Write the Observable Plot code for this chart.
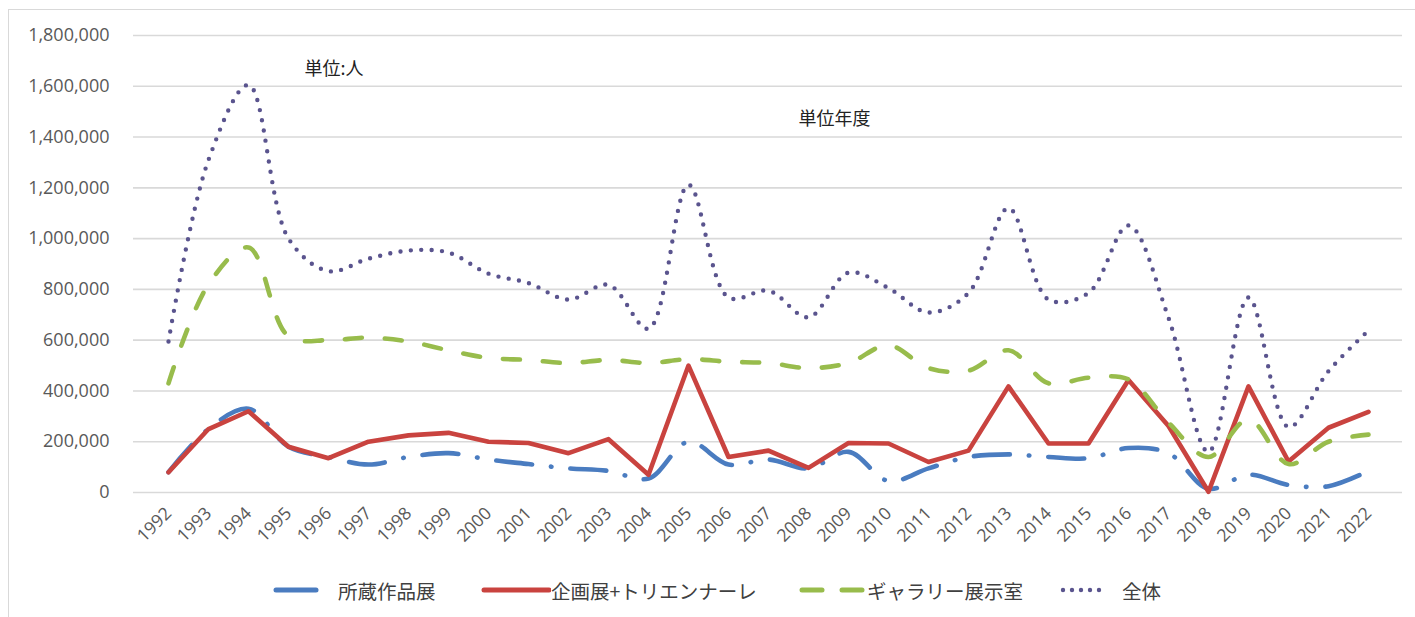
<!DOCTYPE html>
<html>
<head>
<meta charset="utf-8">
<script src="https://cdn.jsdelivr.net/npm/d3@7"></script>
<script src="https://cdn.jsdelivr.net/npm/@observablehq/plot@0.6"></script>
<style>
  html, body { margin: 0; padding: 0; background: #fff; }
  body { width: 1415px; height: 617px; position: relative; overflow: hidden; }
  #frame { position: absolute; left: 8px; top: 9px; width: 1420px; height: 620px; border: 1.5px solid #d9d9d9; box-sizing: border-box; }
  #chart { position: absolute; left: 0; top: 0; }
  #legend { position: absolute; left: 0; top: 577px; height: 26px; width: 1415px;
            font-family: "Noto Sans CJK JP", "Noto Sans", sans-serif; font-size: 19.5px; color: #404040; }
  #legend .item { position: absolute; top: 0; display: flex; align-items: center; height: 26px; white-space: nowrap; }
  #legend svg { display: block; }
</style>
</head>
<body>
<div id="frame"></div>
<div id="chart"></div>
<div id="legend"></div>
<script>
// ---- data ----
const years = ["1992","1993","1994","1995","1996","1997","1998","1999","2000","2001","2002","2003","2004","2005","2006","2007","2008","2009","2010","2011","2012","2013","2014","2015","2016","2017","2018","2019","2020","2021","2022"];
// 所蔵作品展
const shozo   = [80000,250000,330000,180000,140000,110000,140000,155000,130000,112000,95000,85000,55000,200000,110000,130000,95000,160000,45000,95000,140000,150000,140000,135000,175000,155000,15000,70000,30000,25000,85000];
// 企画展+トリエンナーレ
const kikaku  = [80000,250000,320000,180000,135000,200000,225000,235000,200000,195000,155000,210000,70000,500000,140000,165000,97000,195000,193000,120000,165000,418000,193000,193000,443000,262000,3000,418000,122000,255000,318000];
// ギャラリー展示室
const gallery = [430000,820000,965000,615000,600000,610000,595000,560000,530000,522000,510000,522000,510000,525000,515000,510000,490000,510000,580000,490000,480000,560000,430000,452000,445000,275000,140000,288000,112000,200000,228000];
// 全体
const total   = [595000,1310000,1605000,1000000,872000,921000,953000,945000,862000,825000,760000,818000,645000,1212000,768000,795000,690000,866000,805000,709000,786000,1120000,760000,786000,1052000,688000,160000,768000,258000,478000,638000];
const yTicks  = [0,200000,400000,600000,800000,1000000,1200000,1400000,1600000,1800000];
const seriesNames = ["所蔵作品展","企画展+トリエンナーレ","ギャラリー展示室","全体"];
const notes = ["単位:人","単位年度"];

// ---- styles ----
const styles = {
  "所蔵作品展":        {values: shozo,   color: "#4a7cc0", width: 4.6, dash: "36,19,0.5,19", curve: "catmull-rom"},
  "企画展+トリエンナーレ": {values: kikaku,  color: "#c9433f", width: 4.6, dash: null, curve: "linear"},
  "ギャラリー展示室":    {values: gallery, color: "#98bc4c", width: 4.6, dash: "17,23", curve: "catmull-rom"},
  "全体":              {values: total,   color: "#5a548e", width: 4.4, dash: "0,10.4", curve: "catmull-rom"}
};

const rows = [];
for (const name of seriesNames) {
  styles[name].values.forEach((v, i) => rows.push({series: name, year: years[i], value: v}));
}

const fmt = d3.format(",");

const lineMarks = seriesNames.map(name => {
  const s = styles[name];
  return Plot.line(rows.filter(r => r.series === name), {
    x: "year", y: "value",
    stroke: s.color, strokeWidth: s.width,
    strokeDasharray: s.dash ?? undefined,
    strokeLinecap: "round", strokeLinejoin: "round",
    curve: s.curve
  });
});

const chart = Plot.plot({
  width: 1415,
  height: 545,
  marginLeft: 133,
  marginRight: 13,
  marginTop: 35,
  marginBottom: 53,
  style: {fontFamily: "'Open Sans', 'Liberation Sans', sans-serif", fontSize: "18px", color: "#595959", background: "transparent"},
  x: {type: "point", domain: years, padding: 0.5, label: null},
  y: {domain: [0, 1800000], label: null},
  marks: [
    Plot.gridY(yTicks, {stroke: "#d9d9d9", strokeOpacity: 1, strokeWidth: 1.6}),
    Plot.axisY({ticks: yTicks, tickSize: 0, tickPadding: 24, tickFormat: d => fmt(d), fontSize: 18, label: null}),
    Plot.axisX({tickSize: 0, tickPadding: 18, tickRotate: -45, fontSize: 17.5, label: null}),
    ...lineMarks,
    Plot.text([notes[0]], {x: () => "1995", y: () => 1666000, text: d => d, textAnchor: "start", dx: 16,
      fontSize: 18, fill: "#222", fontFamily: "'Noto Sans CJK JP', sans-serif"}),
    Plot.text([notes[1]], {x: () => "2008", y: () => 1469000, text: d => d, textAnchor: "start", dx: -10,
      fontSize: 18, fill: "#222", fontFamily: "'Noto Sans CJK JP', sans-serif"})
  ]
});
document.getElementById("chart").appendChild(chart);

// ---- legend ----
const legend = document.getElementById("legend");
const legendLayout = {
  "所蔵作品展":        {left: 272, sw: 66, draw: (c) => `<line x1="4" y1="13" x2="44" y2="13" stroke="${c}" stroke-width="5" stroke-linecap="round"/>`},
  "企画展+トリエンナーレ": {left: 481, sw: 70, draw: (c) => `<line x1="3" y1="13" x2="68" y2="13" stroke="${c}" stroke-width="5" stroke-linecap="round"/>`},
  "ギャラリー展示室":    {left: 799, sw: 68, draw: (c) => `<line x1="3" y1="13" x2="23" y2="13" stroke="${c}" stroke-width="5" stroke-linecap="round"/><line x1="43" y1="13" x2="63" y2="13" stroke="${c}" stroke-width="5" stroke-linecap="round"/>`},
  "全体":              {left: 1060, sw: 62, draw: (c) => `<line x1="3" y1="13" x2="48" y2="13" stroke="${c}" stroke-width="4.4" stroke-dasharray="0,9" stroke-linecap="round"/>`}
};
for (const name of seriesNames) {
  const L = legendLayout[name];
  const item = document.createElement("div");
  item.className = "item";
  item.style.left = L.left + "px";
  item.innerHTML = `<svg width="${L.sw}" height="26">${L.draw(styles[name].color)}</svg><span>${name}</span>`;
  legend.appendChild(item);
}
</script>
</body>
</html>
